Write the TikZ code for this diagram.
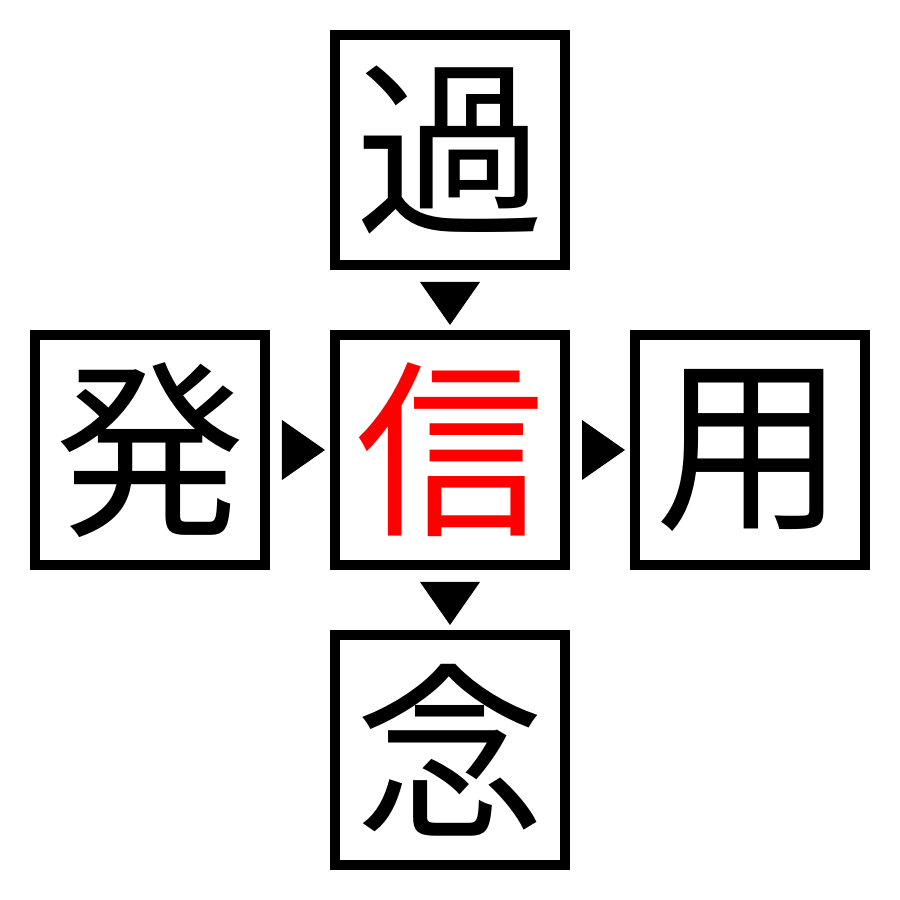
\documentclass[tikz,border=0pt]{standalone}
\usepackage{fontspec}
\newfontfamily\jpfont{Noto Sans CJK JP}
\usetikzlibrary{positioning,calc}
\tikzset{
  kbox/.style={draw,line width=0.1cm,minimum size=2.3cm,inner sep=0pt,
    font=\jpfont\fontsize{54}{54}\selectfont},
  tri/.style={fill=black}
}
\begin{document}
\begin{tikzpicture}
\useasboundingbox (0,0) rectangle (9,9);
% the five boxes
\node[kbox,text=red] (shin) at (4.5,4.5) {信};
\node[kbox,above=0.6cm of shin] (ka) {過};
\node[kbox,left=0.6cm of shin] (hatsu) {発};
\node[kbox,right=0.6cm of shin] (you) {用};
\node[kbox,below=0.6cm of shin] (nen) {念};
% triangles
\fill[tri] ($(hatsu.east)+(0.12,0.3)$) -- ($(hatsu.east)+(0.55,0)$) -- ($(hatsu.east)+(0.12,-0.3)$) -- cycle;
\fill[tri] ($(shin.east)+(0.12,0.3)$) -- ($(shin.east)+(0.55,0)$) -- ($(shin.east)+(0.12,-0.3)$) -- cycle;
\fill[tri] ($(ka.south)+(-0.3,-0.12)$) -- ($(ka.south)+(0,-0.55)$) -- ($(ka.south)+(0.3,-0.12)$) -- cycle;
\fill[tri] ($(shin.south)+(-0.3,-0.12)$) -- ($(shin.south)+(0,-0.55)$) -- ($(shin.south)+(0.3,-0.12)$) -- cycle;
\end{tikzpicture}
\end{document}
